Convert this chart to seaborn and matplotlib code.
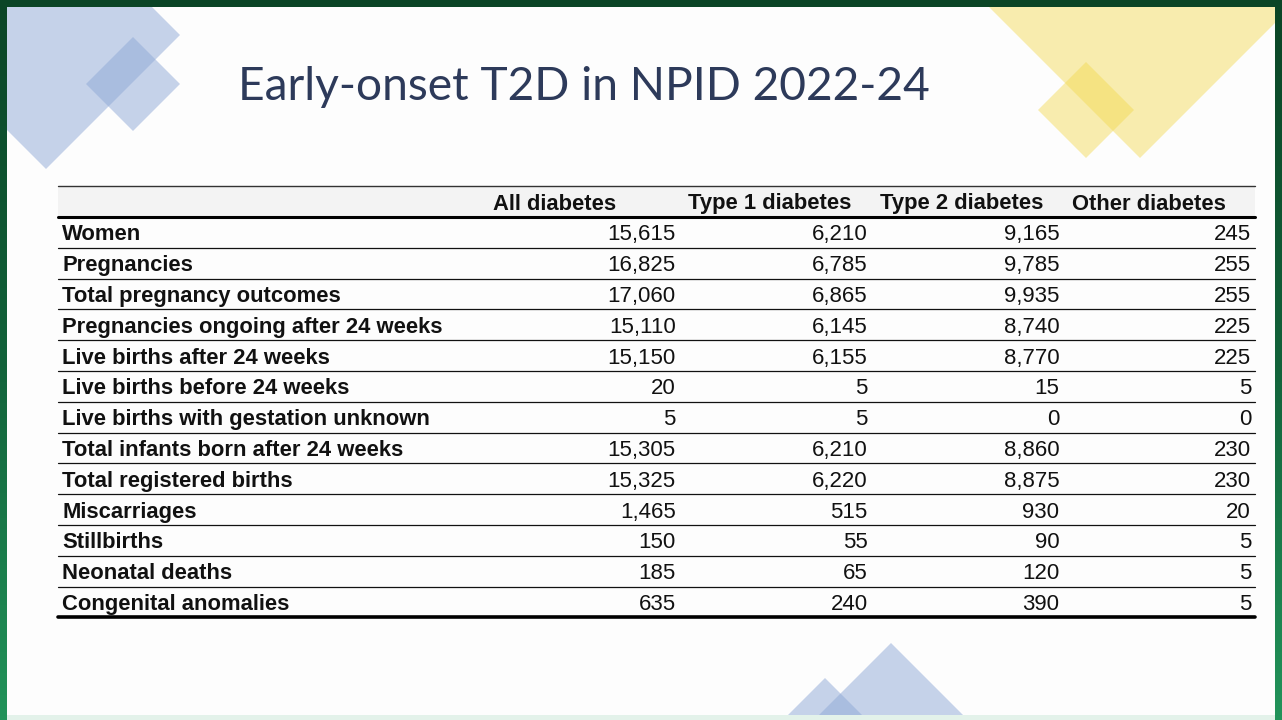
import numpy as np
import pandas as pd
import matplotlib
matplotlib.use("Agg")
import matplotlib.pyplot as plt
from matplotlib import font_manager
from matplotlib.patches import Polygon
from matplotlib.colors import ListedColormap, LinearSegmentedColormap
import seaborn as sns

# ---------------- data ----------------
row_labels = ["Women", "Pregnancies", "Total pregnancy outcomes",
              "Pregnancies ongoing after 24 weeks", "Live births after 24 weeks",
              "Live births before 24 weeks", "Live births with gestation unknown",
              "Total infants born after 24 weeks", "Total registered births",
              "Miscarriages", "Stillbirths", "Neonatal deaths", "Congenital anomalies"]
col_labels = ["All diabetes", "Type 1 diabetes", "Type 2 diabetes", "Other diabetes"]
all_diabetes = [15615, 16825, 17060, 15110, 15150, 20, 5, 15305, 15325, 1465, 150, 185, 635]
type1 = [6210, 6785, 6865, 6145, 6155, 5, 5, 6210, 6220, 515, 55, 65, 240]
type2 = [9165, 9785, 9935, 8740, 8770, 15, 0, 8860, 8875, 930, 90, 120, 390]
other = [245, 255, 255, 225, 225, 5, 0, 230, 230, 20, 5, 5, 5]
title = "Early-onset T2D in NPID 2022-24"

df = pd.DataFrame({col_labels[0]: all_diabetes, col_labels[1]: type1,
                   col_labels[2]: type2, col_labels[3]: other}, index=row_labels)
annot = df.apply(lambda c: c.map(lambda v: f"{v:,}"))

# ---------------- layout (pixels) ----------------
W, H = 1282, 720
TBL_L, TBL_R = 58, 1255
TOP, HDR = 186, 217
ROW_H = 30.8
BOT = HDR + ROW_H * len(row_labels)
NUM_L, NUM_R = 484, 1251
hdr_x = [555, 770, 962, 1149]
LBL_X = 62
BASE = 8.0  # baseline sits this far below the cell centre

sns.set_theme(style="white")
plt.rcParams['font.family'] = ['Liberation Sans', 'DejaVu Sans']

# pick the regular-width Arial-metric bold face (not the Narrow one)
bold_file = None
for f in font_manager.fontManager.ttflist:
    if f.name == "Liberation Sans" and f.weight in (700, "bold") and f.style == "normal" \
            and "Narrow" not in f.fname:
        bold_file = f.fname
        break
if bold_file:
    bold_fp = font_manager.FontProperties(fname=bold_file, size=15.8)
else:
    bold_fp = font_manager.FontProperties(family="DejaVu Sans", weight="bold", size=14.5)

fig = plt.figure(figsize=(W / 100, H / 100), dpi=100, facecolor="#fdfdfd")

# numeric cells via seaborn heatmap
hax = fig.add_axes([NUM_L / W, 1 - BOT / H, (NUM_R - NUM_L) / W, (BOT - HDR) / H])
sns.heatmap(df, annot=annot.values, fmt="", cmap=ListedColormap(["#fdfdfd"]),
            cbar=False, xticklabels=False, yticklabels=False, ax=hax,
            annot_kws={"fontsize": 16, "color": "#111111"})
for t in hax.texts:
    x, y = t.get_position()
    t.set_position((np.floor(x) + 1.0, y + BASE / ROW_H))
    t.set_ha("right")
    t.set_va("baseline")
hax.set_facecolor("#fdfdfd")

# overlay axes in pixel units for slide decoration, labels and rules
ax = fig.add_axes([0, 0, 1, 1], facecolor="none")
ax.set_xlim(0, W)
ax.set_ylim(H, 0)
ax.axis("off")

def diamond(cx, cy, r, color, alpha):
    ax.add_patch(Polygon([(cx, cy - r), (cx + r, cy), (cx, cy + r), (cx - r, cy)],
                         closed=True, facecolor=color, edgecolor="none", alpha=alpha, zorder=1))

# decorations
diamond(46, 35, 134, "#8fa9d6", 0.5)
diamond(133, 84, 47, "#8fa9d6", 0.5)
diamond(1140, -50, 208, "#f2d94e", 0.45)
diamond(1086, 110, 48, "#f2d94e", 0.45)
diamond(891, 768, 125, "#8fa9d6", 0.5)
diamond(825, 740, 62, "#8fa9d6", 0.5)

# green frame
grad = LinearSegmentedColormap.from_list("g", ["#0b4526", "#12623a", "#22935a"])
g = np.linspace(0, 1, 200).reshape(-1, 1)
ax.imshow(g, cmap=grad, extent=(0, 7, H, 0), aspect="auto", zorder=5)
ax.imshow(g, cmap=grad, extent=(1275, W, H, 0), aspect="auto", zorder=5)
ax.add_patch(plt.Rectangle((0, 0), W, 7, facecolor="#0b4526", edgecolor="none", zorder=6))
ax.add_patch(plt.Rectangle((7, 715), 1268, 5, facecolor="#e3f2ea", edgecolor="none", zorder=4))

# title
ax.text(238, 87, title, fontsize=33.2, color="#2d3a5a", ha="left", va="center",
        family=["Lato", "DejaVu Sans"], zorder=3)

# header band
ax.add_patch(plt.Rectangle((TBL_L, TOP), TBL_R - TBL_L, HDR - TOP,
                           facecolor="#f3f3f3", edgecolor="none", zorder=2))
for x, lab in zip(hdr_x, col_labels):
    ax.text(x, (TOP + HDR) / 2 + BASE, lab, fontproperties=bold_fp, color="#111111",
            ha="center", va="baseline", zorder=3)

# row labels
for i, lab in enumerate(row_labels):
    ax.text(LBL_X, HDR + ROW_H * (i + 0.5) + BASE, lab, fontproperties=bold_fp,
            color="#111111", ha="left", va="baseline", zorder=3)

# rules
ax.plot([TBL_L, TBL_R], [TOP, TOP], color="#333333", lw=1.0, zorder=3)
ax.plot([TBL_L, TBL_R], [HDR, HDR], color="#000000", lw=2.2, zorder=3)
for i in range(1, len(row_labels)):
    y = HDR + ROW_H * i
    ax.plot([TBL_L, TBL_R], [y, y], color="#111111", lw=0.9, zorder=3)
ax.plot([TBL_L, TBL_R], [BOT, BOT], color="#000000", lw=2.6, zorder=3)

fig.savefig("out.png", dpi=100, facecolor=fig.get_facecolor())
